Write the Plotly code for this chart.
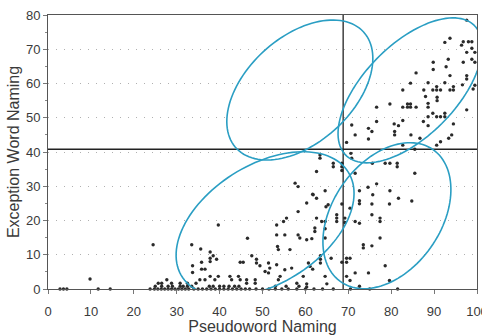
import numpy as np
import plotly.graph_objects as go

# ---------------- data ----------------
pseudo_upper = [97.6, 93.7, 92.5, 96.8, 98.0, 98.8, 96.4, 98.8, 97.6, 99.5, 93.3, 89.8, 96.8, 98.8, 99.5,
                89.8, 92.8, 85.8, 97.6, 97.6, 93.7, 84.5, 88.6, 92.5, 99.5, 96.6, 82.7, 87.6, 89.7, 90.6,
                91.5, 93.7, 94.5, 90.6, 94.5, 99.1, 88.0, 90.7, 90.7, 79.7, 83.8, 84.5, 83.8, 82.7, 84.5,
                85.8, 88.6, 88.6, 97.6, 76.6, 89.7, 90.6, 91.5, 92.5, 92.5, 88.6, 94.5, 82.7, 80.7, 81.7,
                87.5, 88.6, 76.6, 74.7, 71.6, 75.5, 74.7, 80.8, 80.8, 84.6, 86.7, 94.1, 93.4, 70.8, 69.6,
                82.7, 85.5, 90.6, 91.5]
exception_upper = [78.5, 73.2, 72.0, 72.2, 72.2, 72.2, 71.2, 70.3, 69.1, 69.1, 67.1, 66.2, 66.2, 67.1, 66.2,
                   64.1, 64.9, 63.1, 62.3, 61.3, 62.3, 60.1, 60.2, 60.2, 59.5, 59.6, 58.1, 58.1, 58.1, 58.1,
                   58.1, 58.1, 58.1, 59.1, 59.1, 58.4, 56.2, 56.0, 55.0, 54.0, 54.0, 54.0, 53.1, 53.1, 53.1,
                   53.1, 54.2, 53.1, 52.3, 53.1, 51.3, 50.3, 50.3, 51.3, 50.3, 50.3, 48.2, 49.2, 48.2, 47.7,
                   48.9, 47.7, 48.9, 46.9, 45.0, 46.0, 43.8, 46.0, 45.0, 45.0, 44.0, 45.0, 44.0, 47.9, 42.8,
                   42.0, 40.8, 42.0, 43.0]

pseudo_lower_right = [70.6, 70.8, 75.6, 78.6, 79.7, 81.4, 81.4, 71.6, 85.5, 76.6, 74.6, 72.6, 79.7, 75.7,
                      72.6, 72.6, 81.7, 84.8, 75.5, 79.6, 70.4, 75.5, 71.6, 72.6, 77.4, 77.4, 69.2, 69.2,
                      77.4, 73.5, 73.5, 75.5, 69.6, 70.4, 69.6, 78.6, 71.6, 69.6, 70.4, 74.7, 79.6, 72.6,
                      70.5, 75.0, 81.5]
exception_lower_right = [39.6, 38.2, 36.7, 36.7, 36.7, 36.7, 35.7, 33.8, 33.8, 30.7, 29.7, 28.7, 28.7, 27.5,
                         25.8, 24.9, 26.5, 25.7, 24.8, 24.8, 23.6, 21.7, 19.7, 19.2, 20.7, 19.7, 20.7, 19.4,
                         14.9, 12.9, 12.0, 12.6, 9.0, 9.0, 7.8, 6.8, 4.7, 3.7, 2.5, 4.7, 2.5, 0.8,
                         0.0, 0.0, 0.0]

pseudo_middle = [63.4, 63.4, 66.5, 66.5, 62.6, 68.5, 68.5, 68.5, 57.6, 58.3, 64.6, 61.8, 62.6, 60.3, 64.8,
                 58.3, 62.6, 55.6, 54.9, 53.3, 63.8, 64.6, 67.3, 67.3, 67.3, 62.2, 62.2, 64.6, 53.3, 55.2,
                 58.3, 58.7, 61.5, 64.6, 60.3, 53.5, 53.7, 56.4, 63.5, 63.5, 63.5, 66.0, 68.5, 61.7, 59.5,
                 64.6, 60.3, 60.3, 60.7, 61.1, 56.8, 58.0, 61.7, 65.3, 68.5, 65.0]
exception_middle = [39.1, 38.2, 36.7, 35.7, 34.3, 36.7, 35.7, 34.6, 30.9, 29.9, 28.7, 27.5, 26.5, 25.1, 24.0,
                    22.6, 20.7, 20.7, 19.7, 18.7, 19.7, 19.7, 21.7, 20.7, 19.7, 17.8, 16.8, 17.6, 15.8, 15.8,
                    15.8, 14.9, 14.7, 14.9, 14.4, 12.4, 11.5, 11.5, 9.7, 8.7, 7.6, 9.0, 7.8, 5.8, 3.7,
                    3.7, 1.5, 0.6, 7.6, 6.6, 6.1, 1.7, 27.7, 24.6, 24.8, 1.5]

pseudo_lower_left = [24.5, 33.5, 35.6, 37.8, 38.5, 39.3, 37.8, 37.8, 33.7, 33.7, 35.8, 35.8, 36.6, 39.7,
                     46.5, 44.8, 45.5, 47.5, 48.6, 48.6, 49.4, 51.4, 51.7, 50.6, 51.4, 53.3, 55.2, 54.1,
                     53.7, 35.4, 36.6, 37.8, 38.9, 39.7, 37.6, 38.5, 42.4, 42.8, 44.4, 44.8, 46.3, 46.3,
                     48.3, 48.3, 30.8, 30.8, 27.7, 25.7, 9.8,
                     25.0, 26.5, 28.0, 29.0, 31.5, 32.5, 33.5, 40.0, 41.0, 42.2, 43.5, 44.5, 53.0, 55.5,
                     58.5, 26.5, 28.8, 32.5, 34.5]
exception_lower_left = [12.9, 12.9, 11.7, 10.8, 9.7, 8.7, 9.0, 8.0, 6.8, 4.8, 7.8, 5.8, 5.8, 18.7,
                        14.8, 7.8, 7.8, 9.7, 8.7, 7.6, 6.8, 7.6, 6.1, 5.1, 4.7, 7.1, 5.6, 3.7,
                        2.7, 2.7, 2.7, 3.7, 2.7, 3.7, 0.8, 0.8, 3.7, 2.7, 3.7, 2.7, 2.7, 1.7,
                        2.7, 1.7, 1.7, 0.8, 2.7, 1.7, 2.9,
                        0.8, 0.8, 0.8, 0.8, 0.8, 0.8, 0.8, 0.8, 0.8, 0.8, 0.8, 0.8, 0.8, 0.8,
                        0.8, 1.7, 1.7, 1.7, 1.7]

pseudo_floor = [2.8, 3.6, 4.4, 11.7, 14.5, 23.8, 24.8, 25.6, 26.4, 27.2, 28.0, 28.8, 29.6, 30.4, 31.2,
                32.0, 32.8, 34.0, 35.0, 36.0, 37.0, 38.0, 39.0, 40.0, 41.0, 42.0, 43.0, 44.0, 45.0, 46.0,
                47.0, 48.5, 50.0, 51.5, 53.0, 54.5, 56.0, 58.0, 60.0, 62.0, 64.0, 66.5]
exception_floor = [0.0] * len(pseudo_floor)

pseudo = pseudo_upper + pseudo_lower_right + pseudo_middle + pseudo_lower_left + pseudo_floor
exception = exception_upper + exception_lower_right + exception_middle + exception_lower_left + exception_floor

X_CUTOFF = 68.8
Y_CUTOFF = 40.8
x_ticks = [0, 10, 20, 30, 40, 50, 60, 70, 80, 90, 100]
y_ticks = [0, 10, 20, 30, 40, 50, 60, 70, 80]

# ellipse outlines: centre (data units), semi-axes (px), tilt (deg)
ellipse_cx = [58.7, 84.4, 50.6, 79.0]
ellipse_cy = [58.1, 58.0, 18.9, 21.4]
ellipse_a = [86.2, 91.3, 98.2, 80.6]
ellipse_b = [52.9, 45.9, 59.4, 54.1]
ellipse_tilt = [42.3, 45.3, 32.1, 55.1]

# ---------------- layout geometry ----------------
W, H = 482, 335
ML, MR, MT, MB = 48, 5, 15, 46
px_per_x = (W - ML - MR) / 100.0
px_per_y = (H - MT - MB) / 80.0

fig = go.Figure()
fig.add_trace(go.Scatter(
    x=pseudo, y=exception, mode="markers",
    marker=dict(size=3.4, color="#2a2a2a"),
    cliponaxis=False, showlegend=False, hoverinfo="skip"))

shapes = [
    dict(type="line", xref="x", yref="y", x0=X_CUTOFF, x1=X_CUTOFF, y0=0, y1=80,
         line=dict(color="#222222", width=1.3)),
    dict(type="line", xref="x", yref="y", x0=0, x1=100, y0=Y_CUTOFF, y1=Y_CUTOFF,
         line=dict(color="#222222", width=1.3)),
]
t = np.linspace(0, 2 * np.pi, 120)
for cx, cy, a, b, tilt in zip(ellipse_cx, ellipse_cy, ellipse_a, ellipse_b, ellipse_tilt):
    th = np.radians(tilt)
    dx = a * np.cos(t) * np.cos(th) - b * np.sin(t) * np.sin(th)
    dy = a * np.cos(t) * np.sin(th) + b * np.sin(t) * np.cos(th)
    xs = cx + dx / px_per_x
    ys = cy + dy / px_per_y
    path = "M " + " L ".join(f"{x:.3f},{y:.3f}" for x, y in zip(xs, ys)) + " Z"
    shapes.append(dict(type="path", xref="x", yref="y", path=path,
                       line=dict(color="#2a9ec3", width=1.6)))

fig.update_layout(
    width=W, height=H,
    margin=dict(l=ML, r=MR, t=MT, b=MB, autoexpand=False),
    paper_bgcolor="white", plot_bgcolor="white",
    font=dict(family="Liberation Sans, Arial, sans-serif", color="#3a3a3a", size=13),
    shapes=shapes,
    xaxis=dict(range=[0, 100], tickvals=x_ticks, ticktext=[str(v) for v in x_ticks],
               showgrid=False, zeroline=False, automargin=False, ticklabeloverflow="allow",
               ticklabelstandoff=6,
               showline=True, linecolor="#555555", linewidth=1, mirror=True,
               ticks="outside", ticklen=4, tickcolor="#777777",
               title=dict(text="Pseudoword Naming", font=dict(size=16), standoff=2)),
    yaxis=dict(range=[0, 80], tickvals=y_ticks, ticktext=[str(v) for v in y_ticks],
               showgrid=True, gridcolor="#b0b0b0", griddash="1px,7px", gridwidth=1,
               zeroline=False, automargin=False,
               showline=True, linecolor="#555555", linewidth=1, mirror=True,
               ticks="outside", ticklen=4, tickcolor="#777777",
               minor=dict(dtick=5, ticks="outside", ticklen=2, tickcolor="#888888"),
               title=dict(text="Exception Word Naming", font=dict(size=16), standoff=2)),
)

fig.write_html("out.html", config={"displayModeBar": False},
               post_script="document.body.style.margin='0';document.body.style.overflow='hidden';")
